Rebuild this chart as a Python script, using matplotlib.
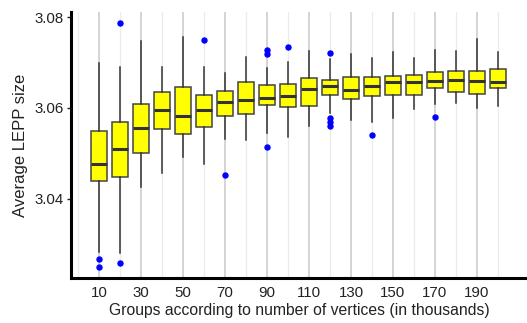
import matplotlib
matplotlib.use("Agg")
import matplotlib.pyplot as plt
import numpy as np

groups = [10, 20, 30, 40, 50, 60, 70, 80, 90, 100, 110, 120, 130, 140, 150, 160, 170, 180, 190, 200]
whisk_lo = [3.0283, 3.0282, 3.0427, 3.0456, 3.0492, 3.0477, 3.0531, 3.0530, 3.0546, 3.0537,
            3.0560, 3.0588, 3.0574, 3.0569, 3.0577, 3.0597, 3.0609, 3.0610, 3.0599, 3.0605]
q1 = [3.0439, 3.0449, 3.0502, 3.0553, 3.0543, 3.0559, 3.0582, 3.0587, 3.0607, 3.0601,
      3.0604, 3.0629, 3.0620, 3.0627, 3.0629, 3.0629, 3.0643, 3.0634, 3.0631, 3.0643]
median = [3.0477, 3.0509, 3.0555, 3.0595, 3.0582, 3.0596, 3.0614, 3.0618, 3.0622, 3.0627,
          3.0642, 3.0648, 3.0639, 3.0648, 3.0656, 3.0657, 3.0660, 3.0661, 3.0659, 3.0656]
q3 = [3.0549, 3.0569, 3.0609, 3.0635, 3.0647, 3.0629, 3.0637, 3.0656, 3.0650, 3.0653,
      3.0665, 3.0662, 3.0669, 3.0667, 3.0670, 3.0673, 3.0678, 3.0681, 3.0682, 3.0686]
whisk_hi = [3.0698, 3.0689, 3.0748, 3.0689, 3.0755, 3.0689, 3.0677, 3.0713, 3.0687, 3.0701,
            3.0725, 3.0707, 3.0719, 3.0709, 3.0722, 3.0710, 3.0727, 3.0726, 3.0752, 3.0722]
outliers = [[3.0267, 3.0251], [3.0787, 3.0260], [], [], [], [3.0749], [3.0453], [],
            [3.0727, 3.0718, 3.0515], [3.0734], [], [3.0721, 3.0577, 3.0569, 3.0560], [],
            [3.0541], [], [], [3.0581], [], [], []]

x_ticks = [10, 30, 50, 70, 90, 110, 130, 150, 170, 190]
y_ticks = [3.04, 3.06, 3.08]

plt.rcParams['font.family'] = ['Liberation Sans', 'DejaVu Sans']

fig = plt.figure(figsize=(5.27, 3.23), dpi=100)
ax = fig.add_axes([0.1347, 0.1393, 0.8653, 0.8235])

# grid lines
for xv in range(0, 220, 20):
    ax.axvline(xv, color='#ebebeb', lw=0.9, zorder=0)
for xv in x_ticks:
    ax.axvline(xv, color='#d4d4d4', lw=1.4, zorder=0)

stats = []
for i in range(len(groups)):
    stats.append(dict(med=median[i], q1=q1[i], q3=q3[i], whislo=whisk_lo[i],
                      whishi=whisk_hi[i], fliers=outliers[i]))

ax.bxp(stats, positions=groups, widths=7.6, patch_artist=True, showcaps=False,
       boxprops=dict(facecolor='#ffff00', edgecolor='#444444', linewidth=1.1),
       medianprops=dict(color='#333333', linewidth=2.2),
       whiskerprops=dict(color='#333333', linewidth=1.1),
       flierprops=dict(marker='o', markerfacecolor='#0000ff', markeredgecolor='#0000ff',
                       markersize=3.6, linestyle='none'),
       manage_ticks=False, zorder=3)

ax.set_xlim(-3.3, 213.8)
ax.set_ylim(3.0226, 3.0811)
ax.set_xticks(x_ticks)
ax.set_xticklabels([str(v) for v in x_ticks])
ax.set_yticks(y_ticks)
ax.set_yticklabels(['3.04', '3.06', '3.08'])
ax.tick_params(axis='x', length=0, labelsize=10.8, colors='#222222', pad=6)
ax.tick_params(axis='y', length=3, width=1, labelsize=10.8, colors='#222222', pad=2)
for lab in ax.get_xticklabels() + ax.get_yticklabels():
    lab.set_color('#222222')

for s in ['top', 'right']:
    ax.spines[s].set_visible(False)
ax.spines['left'].set_linewidth(2.2)
ax.spines['bottom'].set_linewidth(2.2)
ax.spines['left'].set_color('black')
ax.spines['bottom'].set_color('black')

ax.set_xlabel('Groups according to number of vertices (in thousands)', fontsize=11.3,
              color='#222222', labelpad=2)
ax.set_ylabel('Average LEPP size', fontsize=12, color='#222222', labelpad=5)

fig.savefig('out.png', dpi=100)
